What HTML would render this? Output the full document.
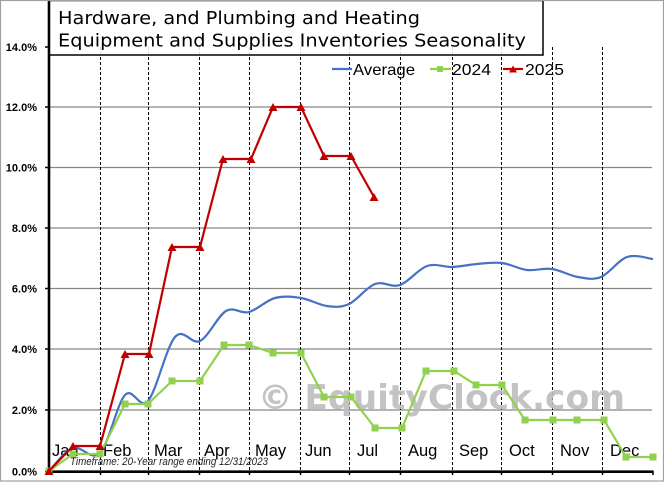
<!DOCTYPE html>
<html><head><meta charset="utf-8"><style>
html,body{margin:0;padding:0;background:#fff;}
svg{display:block;}
</style></head><body>
<svg width="664" height="482" viewBox="0 0 664 482" xmlns="http://www.w3.org/2000/svg">
<rect x="0" y="0" width="664" height="482" fill="#fff"/>
<!-- gridlines -->
<g stroke="#868686" stroke-width="1.3">
<line x1="50" y1="410" x2="652" y2="410"/>
<line x1="50" y1="349" x2="652" y2="349"/>
<line x1="50" y1="288.5" x2="652" y2="288.5"/>
<line x1="50" y1="228" x2="652" y2="228"/>
<line x1="50" y1="167.5" x2="652" y2="167.5"/>
<line x1="50" y1="107" x2="652" y2="107"/>
</g>
<!-- dashed month lines -->
<g stroke="#000" stroke-width="1" stroke-dasharray="3,2">
<line x1="100.5" y1="47" x2="100.5" y2="471"/>
<line x1="148.5" y1="47" x2="148.5" y2="471"/>
<line x1="199.5" y1="47" x2="199.5" y2="471"/>
<line x1="249.5" y1="47" x2="249.5" y2="471"/>
<line x1="300.5" y1="47" x2="300.5" y2="471"/>
<line x1="349.5" y1="47" x2="349.5" y2="471"/>
<line x1="400.5" y1="47" x2="400.5" y2="471"/>
<line x1="452.5" y1="47" x2="452.5" y2="471"/>
<line x1="501.5" y1="47" x2="501.5" y2="471"/>
<line x1="552.5" y1="47" x2="552.5" y2="471"/>
<line x1="602.5" y1="47" x2="602.5" y2="471"/>
</g>
<!-- watermark -->
<text x="258" y="409" font-family="DejaVu Sans, Liberation Sans, sans-serif" font-weight="bold" font-size="34" fill="#bdbdbd" fill-opacity="0.9" textLength="367" lengthAdjust="spacingAndGlyphs">© EquityClock.com</text>
<!-- month labels -->
<g font-family="Liberation Sans, sans-serif" font-size="16.5" fill="#000">
<text x="52" y="456">Jan</text>
<text x="103" y="456">Feb</text>
<text x="154" y="456">Mar</text>
<text x="204" y="456">Apr</text>
<text x="255" y="456">May</text>
<text x="305" y="456">Jun</text>
<text x="357" y="456">Jul</text>
<text x="408" y="456">Aug</text>
<text x="459" y="456">Sep</text>
<text x="509" y="456">Oct</text>
<text x="560" y="456">Nov</text>
<text x="610" y="456">Dec</text>
</g>
<text x="70" y="465" font-family="Liberation Sans, sans-serif" font-style="italic" font-size="11" fill="#222" textLength="198" lengthAdjust="spacingAndGlyphs">Timeframe: 20-Year range ending 12/31/2023</text>
<!-- y labels -->
<g font-family="Liberation Sans, sans-serif" font-weight="bold" font-size="11" fill="#000" text-anchor="end">
<text x="37" y="475.5">0.0%</text>
<text x="37" y="414">2.0%</text>
<text x="37" y="353">4.0%</text>
<text x="37" y="292.5">6.0%</text>
<text x="37" y="232">8.0%</text>
<text x="37" y="171.5">10.0%</text>
<text x="37" y="111">12.0%</text>
<text x="37" y="51">14.0%</text>
</g>
<!-- axes -->
<g stroke="#000" stroke-width="1.5">
<line x1="45" y1="47" x2="50" y2="47"/>
<line x1="45" y1="107" x2="50" y2="107"/>
<line x1="45" y1="167.5" x2="50" y2="167.5"/>
<line x1="45" y1="228" x2="50" y2="228"/>
<line x1="45" y1="288.5" x2="50" y2="288.5"/>
<line x1="45" y1="349" x2="50" y2="349"/>
<line x1="45" y1="410" x2="50" y2="410"/>
<line x1="45" y1="471.5" x2="50" y2="471.5"/>
<line x1="100.5" y1="471" x2="100.5" y2="475"/>
<line x1="148.5" y1="471" x2="148.5" y2="475"/>
<line x1="199.5" y1="471" x2="199.5" y2="475"/>
<line x1="249.5" y1="471" x2="249.5" y2="475"/>
<line x1="300.5" y1="471" x2="300.5" y2="475"/>
<line x1="349.5" y1="471" x2="349.5" y2="475"/>
<line x1="400.5" y1="471" x2="400.5" y2="475"/>
<line x1="452.5" y1="471" x2="452.5" y2="475"/>
<line x1="501.5" y1="471" x2="501.5" y2="475"/>
<line x1="552.5" y1="471" x2="552.5" y2="475"/>
<line x1="602.5" y1="471" x2="602.5" y2="475"/>
<line x1="653" y1="471" x2="653" y2="475"/>
</g>
<line x1="49" y1="0" x2="49" y2="473" stroke="#000" stroke-width="2.6"/>
<line x1="48" y1="471.7" x2="653.5" y2="471.7" stroke="#000" stroke-width="2.6"/>
<!-- Average -->
<path fill="none" stroke="#4472c4" stroke-width="2.2" stroke-linejoin="round" d="M49,471 C53,467.2 64.5,451 73,448 C81.5,445 91.3,461.8 100,453 C108.7,444.2 117,403.7 125,395 C133,386.3 139.7,410.7 148,401 C156.3,391.3 166.3,347 175,337 C183.7,327 191.5,345.3 200,341 C208.5,336.7 217.8,315.8 226,311 C234.2,306.2 240.8,314.2 249,312 C257.2,309.8 266.3,300.3 275,298 C283.7,295.7 292.3,296.7 301,298 C309.7,299.3 319,305 327,306 C335,307 341,307.7 349,304 C357,300.3 366.5,287.2 375,284 C383.5,280.8 391.3,288 400,285 C408.7,282 418.3,269 427,266 C435.7,263 443.7,267.3 452,267 C460.3,266.7 468.7,264.7 477,264 C485.3,263.3 493.7,262 502,263 C510.3,264 518.7,269 527,270 C535.3,271 543.5,267.8 552,269 C560.5,270.2 569.8,275.7 578,277 C586.2,278.3 592.8,280.3 601,277 C609.2,273.7 618.3,260 627,257 C635.7,254 648.7,258.7 653,259"/>
<!-- 2024 -->
<polyline fill="none" stroke="#92d050" stroke-width="2.2" stroke-linejoin="round" points="49,471 73,454 100,454 125,404 148,404 172,381 200,381 224,345 249,345 273,353 301,353 324,397 351,397 375,428 402,428 426,371 454,371 476,385 502,385 525,420 553,420 577,420 604,420 626,457 653,457"/>
<g fill="#92d050">
<rect x="45.5" y="467.5" width="7" height="7"/>
<rect x="69.5" y="450.5" width="7" height="7"/>
<rect x="96.5" y="450.5" width="7" height="7"/>
<rect x="121.5" y="400.5" width="7" height="7"/>
<rect x="144.5" y="400.5" width="7" height="7"/>
<rect x="168.5" y="377.5" width="7" height="7"/>
<rect x="196.5" y="377.5" width="7" height="7"/>
<rect x="220.5" y="341.5" width="7" height="7"/>
<rect x="245.5" y="341.5" width="7" height="7"/>
<rect x="269.5" y="349.5" width="7" height="7"/>
<rect x="297.5" y="349.5" width="7" height="7"/>
<rect x="320.5" y="393.5" width="7" height="7"/>
<rect x="347.5" y="393.5" width="7" height="7"/>
<rect x="371.5" y="424.5" width="7" height="7"/>
<rect x="398.5" y="424.5" width="7" height="7"/>
<rect x="422.5" y="367.5" width="7" height="7"/>
<rect x="450.5" y="367.5" width="7" height="7"/>
<rect x="472.5" y="381.5" width="7" height="7"/>
<rect x="498.5" y="381.5" width="7" height="7"/>
<rect x="521.5" y="416.5" width="7" height="7"/>
<rect x="549.5" y="416.5" width="7" height="7"/>
<rect x="573.5" y="416.5" width="7" height="7"/>
<rect x="600.5" y="416.5" width="7" height="7"/>
<rect x="622.5" y="453.5" width="7" height="7"/>
<rect x="649.5" y="453.5" width="7" height="7"/>
</g>
<!-- 2025 -->
<polyline fill="none" stroke="#c00000" stroke-width="2.2" stroke-linejoin="round" points="49,471 73,446 100,446 125,354 149,354 172,247 200,247 223,159 251,159 273,107 301,107 324,156 351,156 374,197"/>
<g fill="#c00000">
<path d="M44.5,475 L53.5,475 L49,467 Z"/>
<path d="M68.5,450 L77.5,450 L73,442 Z"/>
<path d="M95.5,450 L104.5,450 L100,442 Z"/>
<path d="M120.5,358 L129.5,358 L125,350 Z"/>
<path d="M144.5,358 L153.5,358 L149,350 Z"/>
<path d="M167.5,251 L176.5,251 L172,243 Z"/>
<path d="M195.5,251 L204.5,251 L200,243 Z"/>
<path d="M218.5,163 L227.5,163 L223,155 Z"/>
<path d="M246.5,163 L255.5,163 L251,155 Z"/>
<path d="M268.5,111 L277.5,111 L273,103 Z"/>
<path d="M296.5,111 L305.5,111 L301,103 Z"/>
<path d="M319.5,160 L328.5,160 L324,152 Z"/>
<path d="M346.5,160 L355.5,160 L351,152 Z"/>
<path d="M369.5,201 L378.5,201 L374,193 Z"/>
</g>
<!-- title box -->
<rect x="49.5" y="0.5" width="493.5" height="54.5" fill="#fff" fill-opacity="0.85" stroke="#000" stroke-width="1.5"/>
<g font-family="DejaVu Sans, Liberation Sans, sans-serif" font-size="18" fill="#000">
<text x="58" y="24" textLength="362" lengthAdjust="spacingAndGlyphs">Hardware, and Plumbing and Heating</text>
<text x="58" y="46.5" textLength="468" lengthAdjust="spacingAndGlyphs">Equipment and Supplies Inventories Seasonality</text>
</g>
<!-- legend -->
<line x1="332" y1="69" x2="352" y2="69" stroke="#4472c4" stroke-width="2.2"/>
<line x1="430" y1="69" x2="451" y2="69" stroke="#92d050" stroke-width="2.2"/>
<rect x="437" y="66" width="6" height="6" fill="#92d050"/>
<line x1="503" y1="69" x2="523" y2="69" stroke="#c00000" stroke-width="2.2"/>
<path d="M509,72.5 L517,72.5 L513,65.5 Z" fill="#c00000"/>
<g font-family="Liberation Sans, sans-serif" font-size="16" fill="#000">
<text x="353" y="75" textLength="62" lengthAdjust="spacingAndGlyphs">Average</text>
<text x="452" y="75" textLength="39" lengthAdjust="spacingAndGlyphs">2024</text>
<text x="525" y="75" textLength="39" lengthAdjust="spacingAndGlyphs">2025</text>
</g>
<!-- outer border -->
<rect x="0.5" y="0.5" width="663" height="480.5" fill="none" stroke="#a0a0a0" stroke-width="1.2"/>
</svg>
</body></html>
